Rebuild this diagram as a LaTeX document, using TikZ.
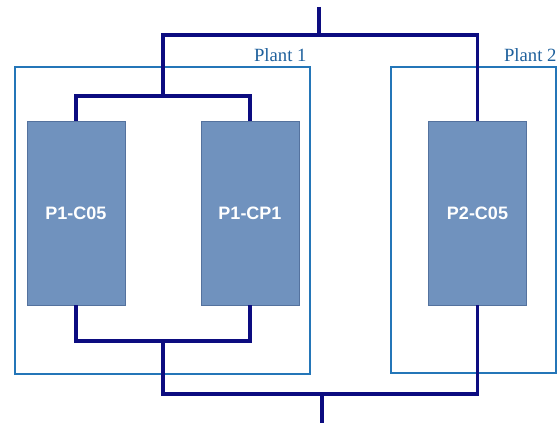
\documentclass[tikz,border=0pt]{standalone}
\usepackage{fontspec}
\setmainfont{Liberation Serif}
\setsansfont{Liberation Sans}
\usetikzlibrary{positioning, calc}
\definecolor{busnavy}{RGB}{12, 12, 128}
\definecolor{unitblue}{RGB}{112, 146, 190}
\definecolor{unitedge}{RGB}{84, 114, 158}
\definecolor{plantblue}{RGB}{36, 118, 184}
\definecolor{labelblue}{RGB}{30, 96, 156}

\begin{document}
\begin{tikzpicture}[
  x=0.75pt, y=-0.75pt,
  unit/.style={draw=unitedge, line width=0.6pt, fill=unitblue, minimum width=73.5pt, minimum height=138pt, inner sep=0pt, text=white, font=\sffamily\bfseries\fontsize{13.5}{16}\selectfont},
  plant/.style={draw=plantblue, line width=1.1pt, inner sep=0pt},
  plantlabel/.style={anchor=south east, inner sep=3pt, text=labelblue, font=\fontsize{14}{16}\selectfont},
  bus/.style={draw=busnavy, line width=2.3pt}
]
  \useasboundingbox (0,0) rectangle (557,423);

  % plant frames
  \node[plant, minimum width=221.25pt, minimum height=230.25pt] (plant1) at (162.5,220.5) {};
  \node[plant, minimum width=123.75pt, minimum height=229.5pt] (plant2) at (473.5,220) {};
  \node[plantlabel] at (plant1.north east) {Plant 1};
  \node[plantlabel, inner xsep=0pt] at (plant2.north east) {Plant 2};

  % units
  \node[unit] (p1c05) at (76,213) {P1-C05};
  \node[unit] (p1cp1) at (250,213) {P1-CP1};
  \node[unit] (p2c05) at (477.5,213) {P2-C05};

  % junctions
  \coordinate (feed) at (319,7);
  \coordinate (split) at (319,35);
  \coordinate (p1in) at (163,96);
  \coordinate (p1out) at (163,341);
  \coordinate (merge) at (322,394);
  \coordinate (drain) at (322,423);

  % headers
  \draw[bus] (feed) -- (split);
  \draw[bus] (p1in) |- (split) -| (p2c05.north);
  \draw[bus] (p1c05.north) |- (p1in) -| (p1cp1.north);
  \draw[bus] (p1c05.south) |- (p1out) -| (p1cp1.south);
  \draw[bus] (p1out) |- (merge) -| (p2c05.south);
  \draw[bus] (merge) -- (drain);
\end{tikzpicture}
\end{document}
